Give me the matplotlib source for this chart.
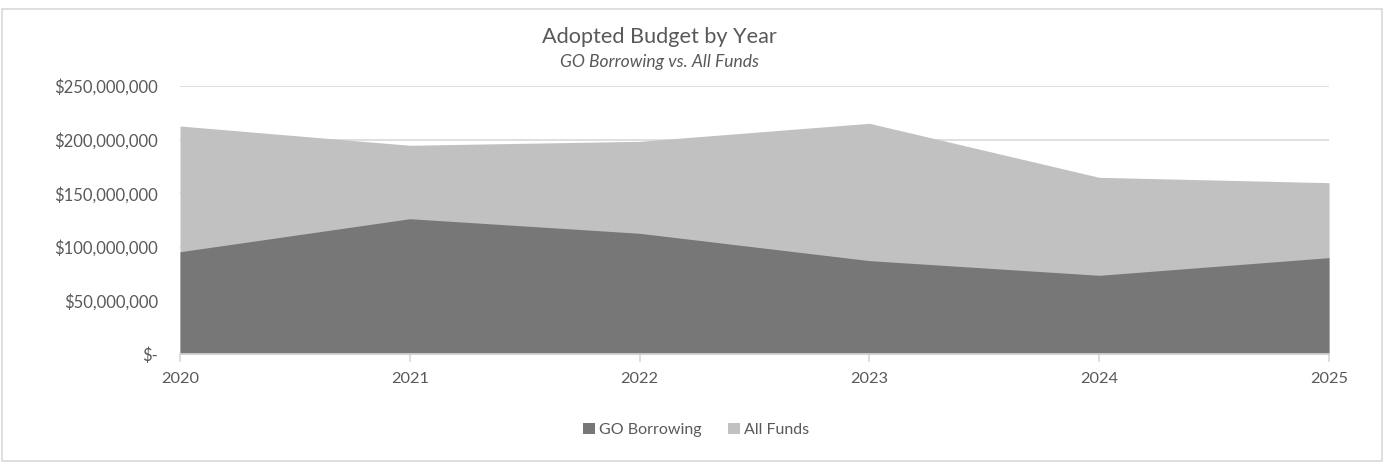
import matplotlib
matplotlib.use("Agg")
import matplotlib.pyplot as plt
from matplotlib.patches import Rectangle, Patch
from matplotlib.ticker import FuncFormatter

years = ["2020", "2021", "2022", "2023", "2024", "2025"]
go_borrowing = [95.4e6, 126.2e6, 112.6e6, 87.1e6, 73.4e6, 89.9e6]
all_funds = [212.7e6, 194.7e6, 198.4e6, 215.2e6, 164.8e6, 159.8e6]

DARK = "#777777"
LIGHT = "#c1c1c1"
GRID = "#d9d9d9"
TEXT = "#595959"

plt.rcParams["font.family"] = ["Lato", "DejaVu Sans"]

W, H = 1386, 462
fig = plt.figure(figsize=(W / 100, H / 100), dpi=100)
ax = fig.add_axes([180 / W, (H - 354) / H, (1329 - 180) / W, (354 - 86) / H])

x = list(range(len(years)))
ax.fill_between(x, 0, all_funds, color=LIGHT, linewidth=0, zorder=2, label="All Funds")
ax.fill_between(x, 0, go_borrowing, color=DARK, linewidth=0, zorder=3, label="GO Borrowing")

ax.set_xlim(0, len(years) - 1)
ax.set_ylim(0, 250e6)
ax.set_yticks([0, 50e6, 100e6, 150e6, 200e6, 250e6])


def money(v, _pos):
    if v == 0:
        return "$-"
    return f"${v:,.0f}"


ax.yaxis.set_major_formatter(FuncFormatter(money))
ax.set_xticks(x)
ax.set_xticklabels(years)

ax.grid(axis="y", color=GRID, linewidth=1.2, zorder=1)
ax.set_axisbelow(True)
for side in ("top", "right", "left"):
    ax.spines[side].set_visible(False)
ax.spines["bottom"].set_color(GRID)
ax.spines["bottom"].set_linewidth(1.2)
ax.spines["bottom"].set_zorder(4)

ax.tick_params(axis="y", length=0, pad=16, labelsize=12, labelcolor=TEXT)
ax.tick_params(axis="x", length=6, width=1.2, color=GRID, pad=7,
               labelsize=11.8, labelcolor=TEXT)

fig.text(659 / W, 1 - 37 / H, "Adopted Budget by Year", ha="center", va="center",
         fontsize=15.6, color=TEXT)
fig.text(659 / W, 1 - 62 / H, "GO Borrowing vs. All Funds", ha="center", va="center",
         fontsize=12.6, style="italic", color=TEXT)

handles = [Patch(facecolor=DARK, edgecolor="none", label="GO Borrowing"),
           Patch(facecolor=LIGHT, edgecolor="none", label="All Funds")]
fig.legend(handles=handles, loc="center", bbox_to_anchor=(696 / W, 1 - 430 / H),
           ncol=2, frameon=False, fontsize=11.5, labelcolor=TEXT,
           handlelength=0.75, handleheight=0.75, handletextpad=0.3, columnspacing=1.6)

fig.patches.append(Rectangle((2 / W, 1 / H), (1382 - 2) / W, (H - 10) / H,
                             transform=fig.transFigure, fill=False,
                             edgecolor=GRID, linewidth=1.2))

fig.savefig("out.png", dpi=100, facecolor="white")
